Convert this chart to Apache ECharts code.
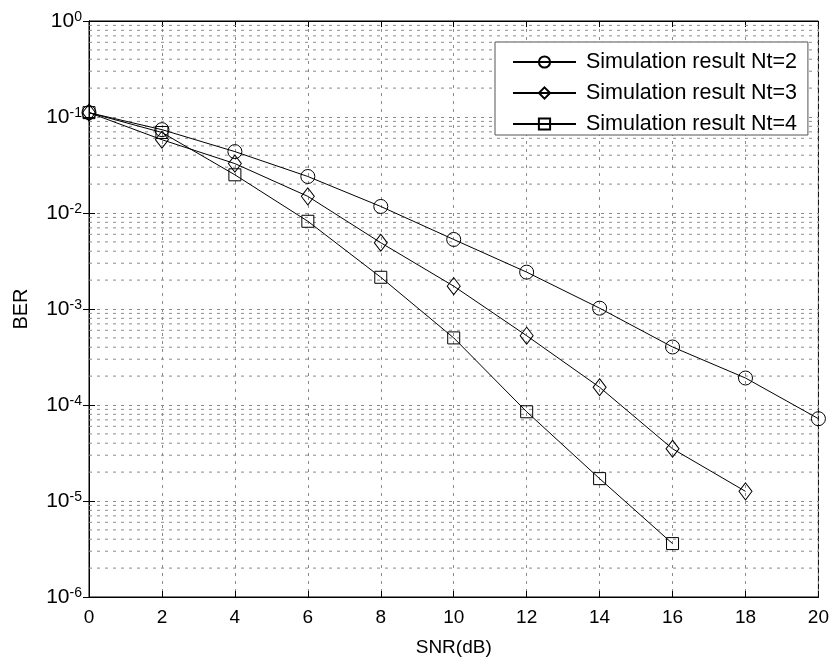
<!DOCTYPE html>
<html><head><meta charset="utf-8">
<script src="https://cdn.jsdelivr.net/npm/echarts@6/dist/echarts.min.js"></script>
<style>html,body{margin:0;padding:0;background:#fff}#c{width:832px;height:662px}</style>
</head><body><div id="c"></div>
<script>
const snr = [0, 2, 4, 6, 8, 10, 12, 14, 16, 18, 20];
const berNt2 = [0.111, 0.0738, 0.0436, 0.024, 0.0117, 0.0053, 0.00242, 0.00102, 0.000402, 0.000191, 0.000072];
const berNt3 = [0.111, 0.058, 0.0327, 0.0149, 0.0049, 0.00173, 0.000527, 0.000153, 0.000035, 0.0000126];
const berNt4 = [0.111, 0.069, 0.025, 0.0082, 0.00214, 0.0005, 0.000085, 0.0000171, 0.0000036];
const seriesNames = ['Simulation result Nt=2', 'Simulation result Nt=3', 'Simulation result Nt=4'];
const xLabel = 'SNR(dB)';
const yLabel = 'BER';
const decadeExponents = [-6, -5, -4, -3, -2, -1];
const minorMultipliers = [2, 3, 4, 5, 6, 7, 8, 9];

const FONT = 'Liberation Sans, Arial, Helvetica, sans-serif';
const GRID_COLOR = '#8a8a8a';
const GRID_DASH = [3, 5];

const minorGridValues = [];
decadeExponents.forEach(e => minorMultipliers.forEach(m => minorGridValues.push(m * Math.pow(10, e))));

function pairs(ys) { return ys.map((y, i) => [snr[i], y]); }

const chart = echarts.init(document.getElementById('c'), null, {renderer: 'canvas'});

const lineCommon = {
  type: 'line',
  animation: false,
  lineStyle: {color: '#000', width: 1},
  itemStyle: {color: 'rgba(255,255,255,0)', borderColor: '#000', borderWidth: 1},
  z: 5
};

chart.setOption({
  backgroundColor: '#fff',
  animation: false,
  grid: {left: 89, right: 12, top: 21, bottom: 63, show: true, borderColor: '#000', borderWidth: 1, containLabel: false},
  xAxis: [{
    type: 'value', min: 0, max: 20, interval: 2,
    name: xLabel, nameLocation: 'middle', nameGap: 41,
    nameTextStyle: {fontFamily: FONT, fontSize: 19, color: '#000'},
    axisLine: {show: true, lineStyle: {color: '#000', width: 1}},
    axisTick: {show: true, inside: true, length: 6, lineStyle: {color: '#000'}},
    axisLabel: {fontFamily: FONT, fontSize: 19, color: '#000', margin: 11},
    splitLine: {show: true, lineStyle: {color: GRID_COLOR, type: GRID_DASH, width: 1}}
  }, {
    type: 'value', min: 0, max: 20, interval: 2, position: 'top',
    axisLine: {show: true, lineStyle: {color: '#000', width: 1}},
    axisTick: {show: true, inside: true, length: 6, lineStyle: {color: '#000'}},
    axisLabel: {show: false}, splitLine: {show: false}
  }],
  yAxis: [{
    type: 'log', logBase: 10, min: 1e-6, max: 1, splitNumber: 6,
    name: yLabel, nameLocation: 'middle', nameGap: 58, nameRotate: 90,
    nameTextStyle: {fontFamily: FONT, fontSize: 20, color: '#000'},
    axisLine: {show: true, lineStyle: {color: '#000', width: 1}},
    axisTick: {show: true, inside: true, length: 6, lineStyle: {color: '#000'}},
    axisLabel: {
      margin: 7,
      formatter: v => '{b|10}{s|' + Math.round(Math.log10(v)) + '}',
      rich: {
        b: {fontFamily: FONT, fontSize: 21, color: '#000', lineHeight: 21, padding: [8, 0, 0, 0], verticalAlign: 'bottom'},
        s: {fontFamily: FONT, fontSize: 14, color: '#000', lineHeight: 14, verticalAlign: 'top'}
      }
    },
    splitLine: {show: true, lineStyle: {color: GRID_COLOR, type: GRID_DASH, width: 1}}
  }, {
    type: 'log', logBase: 10, min: 1e-6, max: 1, splitNumber: 6, position: 'right',
    axisLine: {show: true, lineStyle: {color: '#000', width: 1}},
    axisTick: {show: true, inside: true, length: 6, lineStyle: {color: '#000'}},
    axisLabel: {show: false}, splitLine: {show: false}
  }],
  legend: {
    orient: 'vertical', left: 495, top: 42,
    backgroundColor: '#fff', borderColor: '#555', borderWidth: 1,
    padding: [9, 11, 0, 17],
    itemWidth: 63, itemHeight: 14, itemGap: 9,
    textStyle: {fontFamily: FONT, fontSize: 21.5, color: '#000', lineHeight: 20, padding: [0, 0, 0, 5]},
    data: seriesNames
  },
  series: [
    Object.assign({}, lineCommon, {name: seriesNames[0], symbol: 'circle', symbolSize: 14, data: pairs(berNt2)}),
    Object.assign({}, lineCommon, {name: seriesNames[1], symbol: 'diamond', symbolSize: [13, 17], data: pairs(berNt3)}),
    Object.assign({}, lineCommon, {name: seriesNames[2], symbol: 'rect', symbolSize: 12, data: pairs(berNt4)}),
    {
      type: 'custom', name: 'minorGrid', silent: true, z: 1,
      encode: {y: 0},
      data: minorGridValues.map(v => [v]),
      renderItem: function (params, api) {
        const v = api.value(0);
        const p1 = api.coord([0, v]);
        const p2 = api.coord([20, v]);
        return {
          type: 'line',
          shape: {x1: p1[0], y1: p1[1], x2: p2[0], y2: p2[1]},
          style: {stroke: GRID_COLOR, lineWidth: 1, lineDash: GRID_DASH}
        };
      }
    }
  ]
});
</script>
</body></html>
